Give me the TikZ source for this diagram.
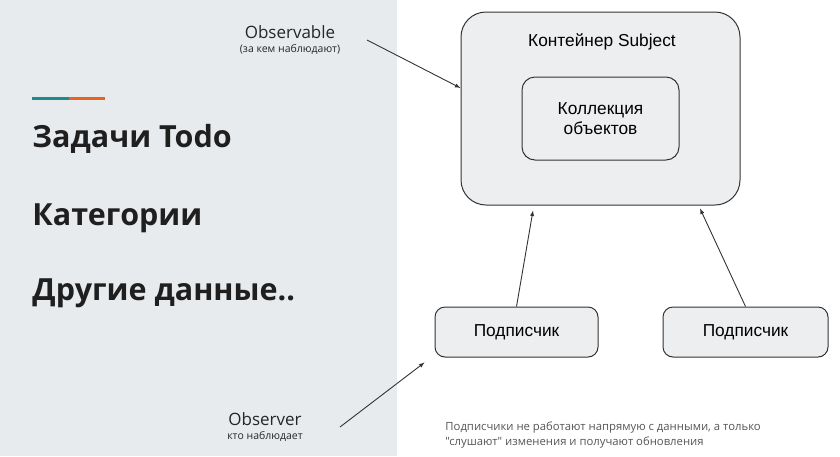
\documentclass[tikz,border=0pt]{standalone}
\usepackage{fontspec}
\setmainfont{Liberation Sans}
\newfontfamily\leftfont{Open Sans}
\usepackage{tikz}
\usetikzlibrary{positioning}
\definecolor{panelgray}{HTML}{E8EBED}
\definecolor{boxgray}{HTML}{EDEEEF}
\definecolor{linegray}{HTML}{333333}
\definecolor{accteal}{HTML}{1F8A8A}
\definecolor{accorange}{HTML}{E8641E}
\definecolor{notegray}{HTML}{555555}
\tikzset{big box/.style={draw=linegray, fill=boxgray, line width=1pt, rounded corners=25pt},
  small box/.style={draw=linegray, fill=boxgray, line width=1pt, rounded corners=10pt, align=center, font=\fontsize{17.3}{20.5}\selectfont},
  title text/.style={anchor=base west, inner sep=0pt, font=\leftfont\bfseries\fontsize{30.5}{34}\selectfont, text=black!88},
  side text/.style={font=\leftfont\fontsize{17}{20}\selectfont, text=black!85},
  side note/.style={font=\leftfont\fontsize{10.5}{12}\selectfont, text=black!85},}

\begin{document}
\begin{tikzpicture}[x=1pt, y=-1pt, ->, >=latex, line width=0.9pt]
        \useasboundingbox (0,0) rectangle (840,456);
        \fill[panelgray] (0,0) rectangle (397,456);
        % Accent line
        \draw[-, accteal, line width=3pt] (32,98) -- (69,98);
        \draw[-, accorange, line width=3pt] (69,98) -- (105,98);
        % Left texts
        \node[title text] (t1) at (32,147) {Задачи Todo};
        \node[title text] (t2) at (32,225) {Категории};
        \node[title text] (t3) at (32,300) {Другие данные..};
        \node[side text] (obs) at (290,32) {Observable};
        \node[side note, below = -2pt of obs] (obsnote) {(за кем наблюдают)};
        \node[side text] (obsr) at (265,419) {Observer};
        \node[side note, below = -2pt of obsr] (obsrnote) {кто наблюдает};
        % Boxes
        \node[big box, minimum width=279pt, minimum height=193pt] (subj) at (600.5,108.5) {};
        \node[font=\fontsize{17.3}{20}\selectfont] (subjlab) at (602,42) {Контейнер Subject};
        \node[small box, rounded corners=13pt, minimum width=157pt, minimum height=83pt] (coll) at (600.5,118.5) {Коллекция\\объектов};
        \node[small box, minimum width=163pt, minimum height=50pt] (s1) at (516.5,332) {Подписчик};
        \node[small box, minimum width=165pt, minimum height=50pt] (s2) at (745.5,332) {Подписчик};
        % Note
        \node[anchor=north west, align=left, inner sep=0pt, text=notegray, font=\leftfont\fontsize{11.3}{15}\selectfont] (note) at (445,421) {Подписчики не работают напрямую с данными, а только\\\char34слушают\char34\ изменения и получают обновления};
        % Arrows
        \coordinate (obsA) at (367,40);
        \coordinate (obsrA) at (340,427);
        \path[linegray]
        (obsA) edge ([yshift=20.5pt]subj.west)
        (s1.north) edge ([xshift=-67.5pt, yshift=-5pt]subj.south)
        (s2.north) edge ([xshift=99.5pt, yshift=-3pt]subj.south)
        (obsrA) edge ([xshift=-10pt, yshift=-5pt]s1.south west);
    \end{tikzpicture}
\end{document}
